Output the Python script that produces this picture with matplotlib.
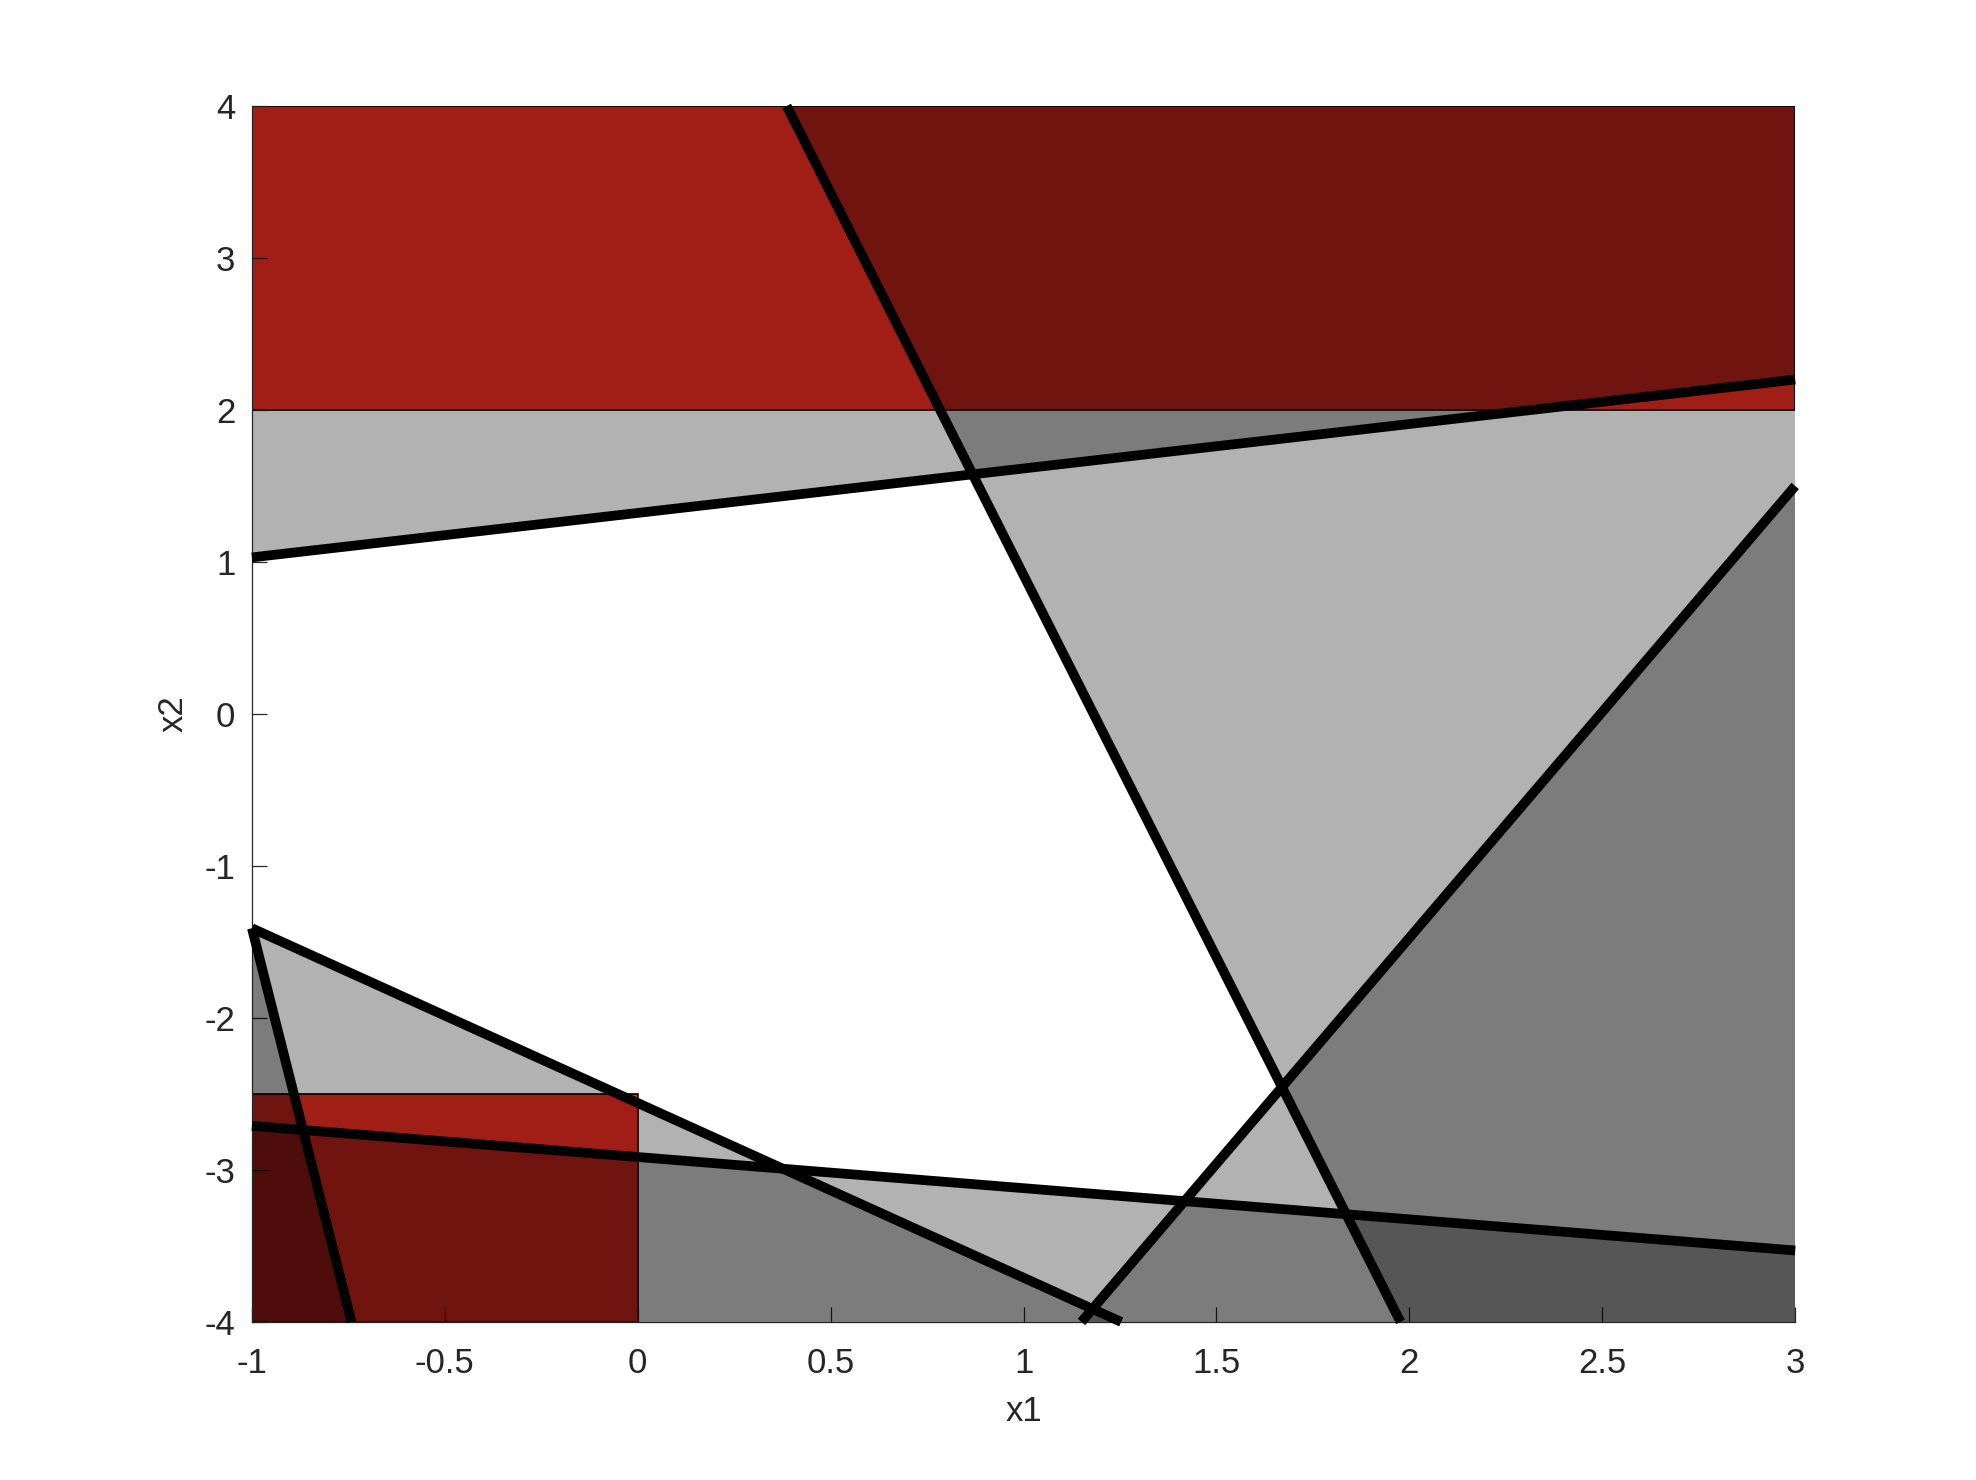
import numpy as np
import matplotlib
matplotlib.use("Agg")
import matplotlib.pyplot as plt
from matplotlib.patches import Polygon, Rectangle

plt.rcParams['font.family'] = ['Liberation Sans', 'DejaVu Sans']
plt.rcParams['axes.unicode_minus'] = False

# plot window
x_lim = [-1, 3]
y_lim = [-4, 4]

# constraint lines, start and end points
line_x_start = [-1.0, 0.386, 1.15, -1.0, -1.0, -1.0]
line_y_start = [1.03, 4.0, -4.0, -1.41, -2.71, -1.41]
line_x_end = [3.0, 1.977, 3.0, 1.253, 3.0, -0.742]
line_y_end = [2.2, -4.0, 1.5, -4.0, -3.53, -4.0]
# infeasible side: +1 = left of start->end, -1 = right of it
infeasible_side = [1, 1, -1, -1, -1, -1]

# red bound boxes (x0, x1, y0, y1)
box_x0 = [-1.0, -1.0]
box_x1 = [3.0, 0.0]
box_y0 = [2.0, -4.0]
box_y1 = [4.0, -2.5]

red = (0.905, 0.17, 0.125)


def clip_halfplane(poly, p1, p2, side):
    # Sutherland-Hodgman against one line
    d = p2 - p1

    def val(p):
        return side * (d[0] * (p[1] - p1[1]) - d[1] * (p[0] - p1[0]))

    out = []
    n = len(poly)
    for i in range(n):
        a, b = poly[i], poly[(i + 1) % n]
        va, vb = val(a), val(b)
        if va >= 0:
            out.append(a)
        if va * vb < 0:
            t = va / (va - vb)
            out.append(a + t * (b - a))
    return np.array(out)


fig = plt.figure(figsize=(19.76, 14.8), dpi=100)
ax = fig.add_axes([0.1275, 0.1068, 0.781, 0.8216])

for bx0, bx1, by0, by1 in zip(box_x0, box_x1, box_y0, box_y1):
    ax.add_patch(Rectangle((bx0, by0), bx1 - bx0, by1 - by0, facecolor=red,
                           edgecolor='black', lw=1.2, zorder=1))

box = np.array([[x_lim[0], y_lim[0]], [x_lim[1], y_lim[0]],
                [x_lim[1], y_lim[1]], [x_lim[0], y_lim[1]]], dtype=float)

for xs, ys, xe, ye, s in zip(line_x_start, line_y_start, line_x_end, line_y_end, infeasible_side):
    p1 = np.array([xs, ys])
    p2 = np.array([xe, ye])
    region = clip_halfplane(box, p1, p2, s)
    ax.add_patch(Polygon(region, closed=True, facecolor='black', alpha=0.3,
                         edgecolor='none', lw=0, zorder=2))

for xs, ys, xe, ye in zip(line_x_start, line_y_start, line_x_end, line_y_end):
    ax.plot([xs, xe], [ys, ye], color='black', lw=7, solid_capstyle='butt',
            zorder=3, clip_on=False)

ax.set_xlim(x_lim)
ax.set_ylim(y_lim)
ax.set_xticks(np.arange(-1, 3.01, 0.5))
ax.set_xticklabels(['-1', '-0.5', '0', '0.5', '1', '1.5', '2', '2.5', '3'])
ax.set_yticks(np.arange(-4, 4.01, 1))
ax.tick_params(direction='in', length=11, width=0.9, color='#262626',
               labelsize=25, labelcolor='#262626')
ax.tick_params(axis='x', pad=18)
ax.tick_params(axis='y', pad=12)
ax.spines['top'].set_visible(False)
ax.spines['right'].set_visible(False)
for sp in ['left', 'bottom']:
    ax.spines[sp].set_linewidth(0.9)
    ax.spines[sp].set_color('#262626')
    ax.spines[sp].set_zorder(2.5)

ax.set_xlabel('x1', fontsize=25, color='#262626', labelpad=11)
ax.set_ylabel('x2', fontsize=25, color='#262626', labelpad=11)

fig.savefig('out.png', dpi=100)
